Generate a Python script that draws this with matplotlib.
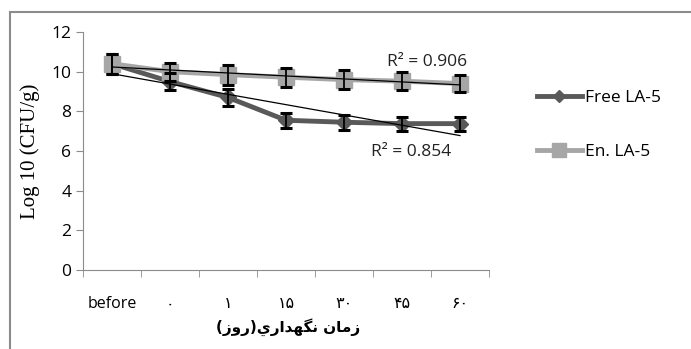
import numpy as np
import matplotlib.pyplot as plt
from matplotlib.patches import Rectangle

# days of storage (Persian digits)
categories = ['before', '۰', '۱', '۱۵', '۳۰', '۴۵', '۶۰']
free_la5 = [10.4, 9.5, 8.7, 7.55, 7.45, 7.38, 7.38]
free_err = [0.5, 0.42, 0.45, 0.38, 0.38, 0.35, 0.35]
en_la5 = [10.4, 10.0, 9.85, 9.72, 9.6, 9.52, 9.4]
en_err = [0.5, 0.45, 0.5, 0.48, 0.47, 0.45, 0.45]
r2_free = 'R² = 0.854'
r2_en = 'R² = 0.906'

# xlabel "زمان نگهداري(روز)" in shaped presentation forms, visual order
xlabel = ('(\uFEAF\uFEED\uFEAD)\uFEF1\uFEAD\uFE8D\uFEAA\uFEEC\uFB95\uFEE7'
          ' \uFEE5\uFE8E\uFEE3\uFEAF')

sans = ['Open Sans', 'DejaVu Sans']

fig = plt.figure(figsize=(6.91, 3.49), dpi=100)
ax = fig.add_axes([83/691, 79/349, 406/691, 238/349])

# outer chart frame
fig.patches.append(Rectangle((10/691, -0.1), 1.2, (337/349) + 0.1,
                             transform=fig.transFigure, fill=False,
                             edgecolor='#8c8c8c', linewidth=1.5))

x = np.arange(len(categories))

ax.errorbar(x, free_la5, yerr=free_err, fmt='none', ecolor='black',
            elinewidth=1.3, capsize=4, capthick=2.2, zorder=4)
ax.errorbar(x, en_la5, yerr=en_err, fmt='none', ecolor='black',
            elinewidth=1.3, capsize=4, capthick=2.2, zorder=4)

l1, = ax.plot(x, free_la5, color='#595959', lw=3.5, marker='D', ms=8,
              label='Free LA-5', zorder=3)
l2, = ax.plot(x, en_la5, color='#a6a6a6', lw=3.5, marker='s', ms=12,
              label='En. LA-5', zorder=3)

# linear trend lines
for ys in (free_la5, en_la5):
    k, b = np.polyfit(x, ys, 1)
    ax.plot(x, k * x + b, color='black', lw=0.9, zorder=5)

ax.text(5.43, 10.5, r2_en, ha='center', va='center', fontsize=12.5,
        family=sans, color='#222222')
ax.text(5.16, 5.95, r2_free, ha='center', va='center', fontsize=12.5,
        family=sans, color='#222222')

ax.set_xlim(-0.5, 6.5)
ax.set_ylim(0, 12)
ax.set_yticks(range(0, 13, 2))
ax.set_xticks(x)
ax.set_xticklabels(categories, family=sans, fontsize=11.5)
ax.set_xticks(np.arange(-0.5, 7, 1), minor=True)
ax.tick_params(axis='x', which='major', length=0, pad=19)
ax.tick_params(axis='x', which='minor', length=5, color='#8c8c8c')
ax.tick_params(axis='y', length=5, color='#8c8c8c', labelsize=12.5)
for lab in ax.get_yticklabels():
    lab.set_family(sans)

for s in ('top', 'right'):
    ax.spines[s].set_visible(False)
for s in ('left', 'bottom'):
    ax.spines[s].set_color('#8c8c8c')

ax.set_ylabel('Log 10 (CFU/g)', family='Liberation Serif', fontsize=15,
              labelpad=8)
fig.text(288/691, 1 - 327/349, xlabel, ha='center', va='center',
         family='DejaVu Sans', fontweight='bold', fontsize=11)

fig.legend(handles=[l1, l2], loc='center left',
           bbox_to_anchor=(521/691, 1 - 125/349), frameon=False,
           prop={'family': sans, 'size': 12.5}, handlelength=2.6,
           labelspacing=2.2, handletextpad=0.2, markerscale=0.8)

fig.savefig('out.png', dpi=100)
